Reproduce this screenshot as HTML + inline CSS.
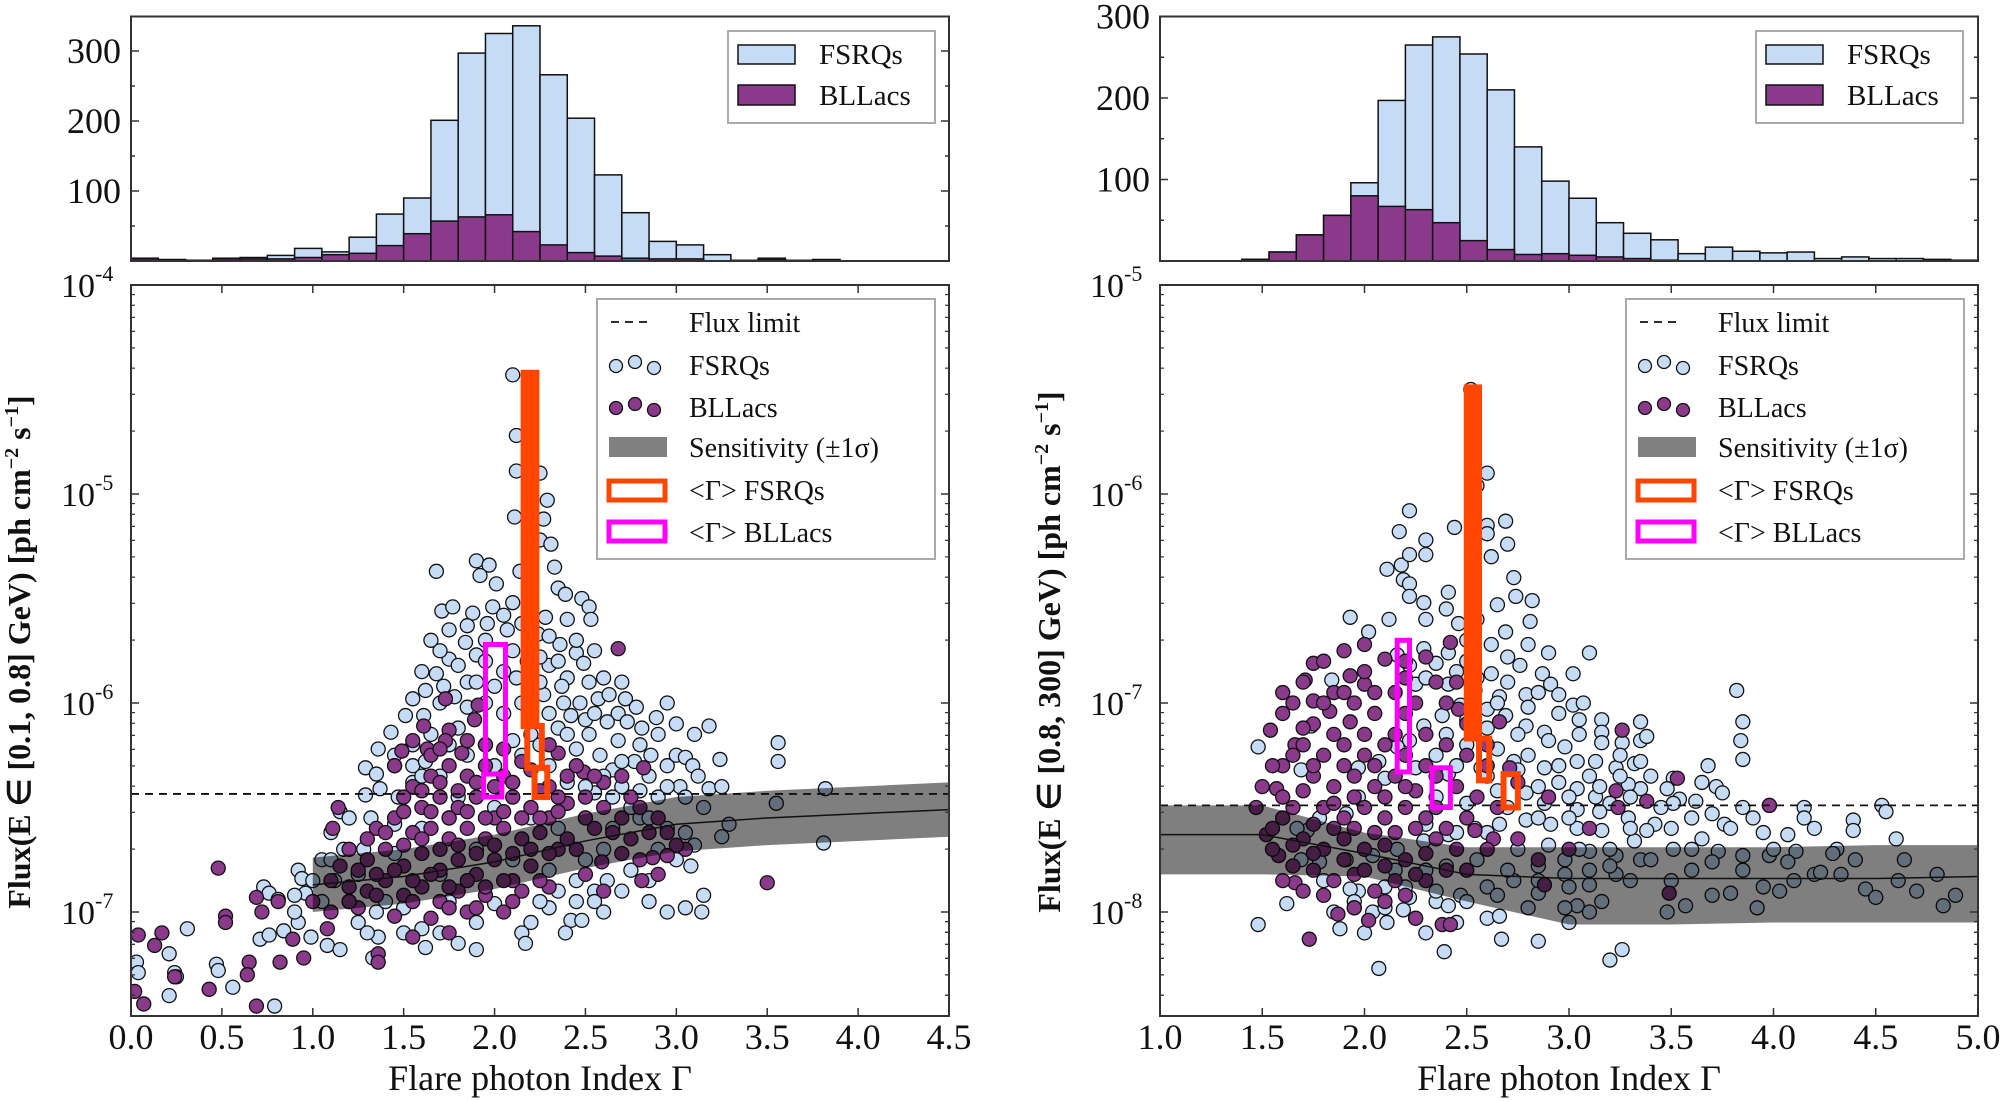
<!DOCTYPE html>
<html><head><meta charset="utf-8"><style>
html,body{margin:0;padding:0;background:#fff}
svg{display:block;font-family:"Liberation Serif",serif}
</style></head><body>
<svg id="fig" width="2000" height="1101" viewBox="0 0 2000 1101" xmlns="http://www.w3.org/2000/svg">
<defs>
<clipPath id="clipL"><rect x="131" y="285" width="818" height="731"/></clipPath>
<clipPath id="clipR"><rect x="1160" y="285" width="818" height="731"/></clipPath>
<clipPath id="clipHL"><rect x="131" y="16" width="818" height="245"/></clipPath>
<clipPath id="clipHR"><rect x="1160" y="16" width="818" height="245"/></clipPath>
</defs>
<g id="root"></g>
</svg>
<script>
// ---------- histogram data ----------
const histLeftStart = 0, histLeftWidth = 0.15;
const histLeftFsrq = [4,2,1,4,5,8,18,13,34,67,90,201,297,325,336,266,204,123,69,28,23,9,1,4,1,2,0,0,0,0];
const histLeftBll  = [3,2,1,3,3,3,5,9,11,22,39,57,63,66,42,23,12,7,4,3,3,0,0,2,0,2,0,0,0,0];
const histRightStart = 1, histRightWidth = 4/30;
const histRightFsrq = [0,0,0,2,11,32,56,96,197,265,275,254,210,140,98,77,47,34,26,9,17,12,10,11,3,5,3,3,2,1];
const histRightBll  = [0,0,0,2,11,32,56,80,67,63,47,25,14,8,9,7,5,3,1,0,0,0,0,0,0,0,0,0,1,0];
const histLeftTicks = [100,200,300];
const histRightTicks = [100,200,300];

// ---------- scatter data: [Gamma, log10 flux] ----------
const fsrqLeft = [[2.10,-4.43],[2.12,-4.72],[2.12,-4.89],[2.25,-4.90],[2.29,-5.03],[2.11,-5.11],[2.27,-5.12],[2.25,-5.22],[2.31,-5.24],
[1.68,-5.37],[1.90,-5.32],[1.97,-5.34],[1.92,-5.39],[2.01,-5.43],[2.14,-5.37],[2.33,-5.35],[2.35,-5.45],[2.39,-5.48],[2.48,-5.50],[2.52,-5.54],[2.53,-5.60],[1.71,-5.56],[1.77,-5.54],[1.88,-5.57],[1.99,-5.54],[2.10,-5.52],[2.28,-5.59],
[1.85,-5.63],[1.96,-5.62],[2.07,-5.65],[2.24,-5.67],[2.36,-5.72],[2.45,-5.76],[2.49,-5.81],[1.84,-5.71],[1.90,-5.77],[1.75,-5.79],[1.68,-5.86],[1.85,-5.90],[2.05,-5.85],[2.18,-5.80],[2.30,-5.82],[2.40,-5.88],[2.52,-5.90],[1.62,-5.94],
[1.61,-6.06],[1.51,-6.06],[1.43,-6.14],[1.70,-6.0],[1.78,-5.97],[1.95,-6.0],[2.27,-5.96],[2.38,-6.0],[2.47,-6.0],[2.57,-5.98],[2.63,-5.96],[2.72,-5.98],[2.68,-6.05],[2.62,-6.09],[2.73,-6.09],[2.81,-6.12],[2.89,-6.07],[3.18,-6.11],[2.50,-6.08],[2.35,-6.12],[2.20,-6.15],[1.80,-6.12],[1.65,-6.15],[1.55,-6.2],
[1.36,-6.22],[1.29,-6.31],[1.35,-6.34],[1.45,-6.25],[1.55,-6.30],[1.62,-6.28],[1.70,-6.35],[1.85,-6.25],[2.0,-6.3],[2.15,-6.25],[2.3,-6.3],[2.45,-6.22],[2.58,-6.25],[2.65,-6.32],[2.77,-6.28],[2.86,-6.25],[2.95,-6.3],[3.0,-6.25],[3.05,-6.26],[3.09,-6.30],[3.24,-6.27],[3.56,-6.19],[3.56,-6.28],[3.12,-6.35],[3.18,-6.41],[3.02,-6.40],[2.90,-6.45],[2.80,-6.42],[2.70,-6.4],[2.55,-6.43],[2.40,-6.38],[1.29,-6.44],[1.37,-6.41],[1.47,-6.45],[1.55,-6.38],[3.25,-6.40],[3.82,-6.41],
[1.15,-6.52],[1.20,-6.55],[1.32,-6.55],[1.45,-6.58],[1.6,-6.6],[1.75,-6.55],[2.5,-6.55],[2.65,-6.6],[2.8,-6.55],[2.95,-6.6],[3.05,-6.62],[3.10,-6.68],[3.0,-6.75],[2.9,-6.7],[3.55,-6.48],[3.81,-6.67],[3.29,-6.58],[3.25,-6.64],[1.10,-6.62],[1.17,-6.70],[1.05,-6.75],[1.28,-6.7],[1.45,-6.72],[3.08,-6.78],
[0.92,-6.80],[0.94,-6.84],[0.96,-6.91],[0.73,-6.88],[0.76,-6.91],[0.81,-6.94],[0.9,-6.92],[1.12,-6.85],[1.2,-6.95],[1.35,-7.0],[1.5,-6.98],[1.75,-6.95],[2.0,-6.96],[2.3,-6.98],[2.45,-6.95],[2.55,-6.9],[2.62,-6.85],[2.85,-6.95],[2.95,-7.0],[3.05,-6.98],[3.14,-7.0],[2.42,-7.04],[2.39,-7.1],[3.15,-6.92],[2.2,-7.05],[1.9,-7.05],[1.6,-7.08],[1.25,-7.05],[0.92,-7.05],[0.9,-7.0],
[0.31,-7.08],[0.71,-7.13],[0.76,-7.11],[0.84,-7.09],[0.99,-7.12],[1.08,-7.16],[1.15,-7.18],[1.36,-7.12],[1.62,-7.17],[1.90,-7.18],[2.15,-7.10],[2.17,-7.15],[2.48,-7.04],[1.33,-7.22],[0.21,-7.20],[0.03,-7.24],[0.04,-7.29],[0.24,-7.29],[0.25,-7.31],[0.47,-7.25],[0.48,-7.28],[0.56,-7.36],[0.21,-7.40],[0.79,-7.45],
[1.8,-6.45],[2.0,-6.5],[2.2,-6.55],[2.35,-6.6],[1.9,-6.7],[2.1,-6.75],[2.3,-6.8],[2.5,-6.75],[1.7,-6.82],[2.6,-6.7]];
const fsrqLeftExtra = [[1.65,-5.7],[1.75,-5.65],[1.95,-5.7],[2.05,-5.58],[2.15,-5.62],[2.3,-5.68],[2.4,-5.6],[1.7,-5.75],[1.8,-5.82],[1.95,-5.8],[2.1,-5.75],[2.25,-5.78],[2.35,-5.8],[2.45,-5.7],[2.55,-5.75],[1.6,-5.85],[1.72,-5.92],[1.9,-5.9],[2.0,-5.92],[2.12,-5.88],[2.25,-5.9],[2.37,-5.92],[2.6,-5.88],[2.7,-5.9],[1.55,-5.98],[1.85,-6.02],[2.05,-6.05],[2.15,-6.0],[2.3,-6.05],[2.42,-6.06],[2.55,-6.05],[2.78,-6.02],[2.95,-6.0],[3.0,-6.1],[3.1,-6.15],[1.45,-6.3],[1.6,-6.35],[1.75,-6.2],[1.95,-6.2],[2.1,-6.18],[2.25,-6.2],[2.4,-6.15],[2.52,-6.15],[2.68,-6.18],[2.8,-6.2],[2.9,-6.15],[2.7,-6.28],[2.85,-6.35],[2.95,-6.4],[3.05,-6.45],[3.15,-6.5],[2.6,-6.35],[2.75,-6.5],[2.85,-6.55],[2.5,-6.4],[2.65,-6.45],[2.85,-6.85],[2.75,-6.8],[2.7,-6.9],[2.55,-6.95],[2.6,-7.0],[2.45,-6.85],[2.35,-6.9],[2.25,-6.95],[1.4,-6.95],[1.25,-6.82],[1.1,-6.75],[1.0,-6.85],[1.05,-6.95],[1.3,-7.1],[1.5,-7.1],[1.7,-7.1],[1.8,-7.15]];

const bllLeft = [[2.68,-5.74],[1.73,-5.98],[1.91,-6.01],[1.89,-6.08],[1.61,-6.11],[1.75,-6.13],[1.49,-6.23],[1.63,-6.22],[1.73,-6.18],[1.82,-6.24],[2.35,-6.24],[2.49,-6.33],[2.82,-6.31],[1.14,-6.50],[1.11,-6.60],[0.48,-6.79],[0.69,-6.93],[0.81,-6.95],[0.72,-7.0],[0.52,-7.02],[0.52,-7.05],[0.04,-7.11],[0.17,-7.10],[0.13,-7.16],[0.89,-7.13],[1.08,-7.08],[0.95,-7.22],[1.36,-7.20],[1.36,-7.24],[0.82,-7.24],[0.65,-7.24],[0.64,-7.30],[0.24,-7.31],[0.02,-7.38],[0.43,-7.37],[0.07,-7.44],[0.69,-7.45],[3.50,-6.86],[2.81,-6.85],[3.05,-6.70],[2.95,-6.73],[2.59,-6.76],[2.87,-6.74],
[1.55,-6.4],[1.65,-6.35],[1.75,-6.3],[1.85,-6.35],[1.95,-6.3],[2.05,-6.35],[2.2,-6.32],[2.3,-6.4],[1.6,-6.5],[1.7,-6.45],[1.8,-6.5],[1.9,-6.45],[2.0,-6.55],[2.1,-6.45],[2.2,-6.5],[2.3,-6.55],[2.4,-6.48],[2.5,-6.45],[2.6,-6.5],[1.35,-6.6],[1.45,-6.55],[1.55,-6.62],[1.65,-6.6],[1.75,-6.65],[1.85,-6.6],[1.95,-6.65],[2.05,-6.6],[2.15,-6.65],[2.25,-6.62],[2.4,-6.65],[2.55,-6.6],[2.7,-6.55],[2.8,-6.5],[1.2,-6.7],[1.3,-6.75],[1.4,-6.7],[1.5,-6.78],[1.6,-6.72],[1.7,-6.8],[1.8,-6.75],[1.9,-6.82],[2.0,-6.75],[2.1,-6.85],[2.2,-6.78],[2.45,-6.7],[2.7,-6.72],[2.85,-6.62],[1.1,-6.85],[1.2,-6.88],[1.3,-6.9],[1.4,-6.85],[1.5,-6.92],[1.6,-6.88],[1.7,-6.95],[1.8,-6.9],[1.95,-6.92],[2.05,-7.0],[2.15,-6.9],[2.3,-6.88],[1.0,-6.95],[1.1,-7.0],[1.25,-6.98],[1.45,-7.02],[1.65,-7.03],[1.85,-7.0],[1.55,-7.12],[1.75,-7.1],[2.35,-6.7],[2.5,-6.82],[2.6,-6.9],[1.65,-6.25],[1.85,-6.18],[2.3,-6.2],[1.5,-6.45],[2.45,-6.3],[2.6,-6.38],[2.75,-6.45],[2.9,-6.55],[3.0,-6.68]];
const bllLeftExtra = [[1.45,-6.3],[1.6,-6.42],[1.7,-6.38],[1.8,-6.42],[1.9,-6.38],[2.0,-6.4],[2.1,-6.38],[2.25,-6.42],[2.35,-6.45],[1.5,-6.52],[1.65,-6.52],[1.75,-6.55],[1.85,-6.52],[1.95,-6.55],[2.05,-6.52],[2.15,-6.55],[2.25,-6.55],[2.35,-6.52],[2.5,-6.55],[1.3,-6.65],[1.4,-6.62],[1.5,-6.68],[1.6,-6.65],[1.7,-6.7],[1.8,-6.68],[1.9,-6.72],[2.0,-6.68],[2.1,-6.72],[2.2,-6.7],[2.3,-6.72],[1.15,-6.78],[1.25,-6.8],[1.35,-6.82],[1.45,-6.8],[1.55,-6.85],[1.65,-6.82],[1.75,-6.88],[1.85,-6.85],[1.95,-6.88],[2.05,-6.85],[2.25,-6.85],[1.2,-6.95],[1.35,-6.92],[1.55,-6.95],[1.75,-6.98],[1.9,-6.98],[2.1,-6.95],[1.95,-6.2],[2.05,-6.22],[2.15,-6.28],[1.55,-6.18],[1.7,-6.22],[2.4,-6.35],[2.55,-6.35],[2.7,-6.35],[2.65,-6.62],[2.75,-6.65],[2.8,-6.75],[2.9,-6.82],[2.95,-6.62]];

const fsrqRight = [[2.52,-5.50],[2.60,-5.90],[2.55,-5.96],[2.22,-6.08],[2.17,-6.18],[2.44,-6.16],[2.60,-6.15],[2.69,-6.13],[2.60,-6.19],[2.70,-6.24],[2.30,-6.22],
[2.11,-6.36],[2.18,-6.34],[2.22,-6.29],[2.30,-6.29],[2.62,-6.30],[2.73,-6.40],[2.19,-6.41],[2.22,-6.43],[2.41,-6.47],[2.29,-6.52],[2.22,-6.49],[2.65,-6.53],[2.74,-6.49],[2.82,-6.51],[1.93,-6.59],[2.02,-6.66],[2.12,-6.60],[2.46,-6.62],[2.69,-6.66],[2.81,-6.61],[2.80,-6.72],[2.62,-6.72],[2.90,-6.76],[3.10,-6.76],[3.02,-6.86],[2.87,-6.86],[2.76,-6.82],[2.62,-6.86],[2.41,-6.76],[2.29,-6.74],[2.35,-6.81],[2.22,-6.82],[2.16,-6.77],[2.25,-6.91],[2.41,-6.91],[2.54,-6.94],[2.66,-6.97],[2.79,-6.96],[2.91,-6.91],[2.95,-6.96],[3.02,-7.01],[3.07,-7.00],[3.16,-7.08],[3.16,-7.14],[3.16,-7.19],[3.26,-7.19],[3.35,-7.09],[3.35,-7.18],[3.38,-7.16],[3.68,-7.30],[3.82,-6.94],[3.85,-7.09],[3.84,-7.18],[3.85,-7.27],[3.72,-7.40],[3.75,-7.43],[3.51,-7.36],[3.48,-7.41],[3.54,-7.46],[3.35,-7.41],[3.29,-7.39],[3.32,-7.29],[3.23,-7.31],[3.13,-7.28],[3.04,-7.28],[2.98,-7.21],[2.88,-7.14],[2.79,-7.11],[2.69,-7.06],[2.60,-7.03],[2.47,-7.01],[2.38,-7.06],[2.29,-7.11],[2.22,-7.18],[2.16,-7.21],[2.07,-7.28],[1.97,-7.31],[1.69,-7.32],[1.74,-7.11],[1.84,-6.89],[1.48,-7.21],
[4.15,-7.50],[3.98,-7.49],[3.85,-7.50],[3.70,-7.53],[3.76,-7.58],[3.79,-7.60],[3.95,-7.62],[4.07,-7.63],[4.15,-7.55],[4.53,-7.49],[4.55,-7.52],[4.39,-7.56],[4.39,-7.61],[4.31,-7.70],[4.11,-7.71],[4.07,-7.76],[3.98,-7.73],[3.85,-7.73],[3.73,-7.71],[3.60,-7.70],[3.51,-7.70],[3.42,-7.58],[3.29,-7.55],[3.51,-7.48],[3.62,-7.47],[3.35,-7.75],[3.23,-7.73],[3.23,-7.82],[3.10,-7.87],[2.98,-7.82],[2.85,-7.78],[2.73,-7.85],[2.60,-7.88],[2.47,-7.92],[2.35,-7.95],[2.22,-7.93],[2.10,-7.88],[1.97,-7.90],[1.93,-7.89],[2.04,-8.00],[2.11,-8.05],[2.19,-7.99],[2.25,-8.03],[1.88,-8.08],[1.48,-8.06],[1.62,-7.96],[2.39,-8.19],[2.67,-8.13],[2.85,-8.14],[2.07,-8.27],[3.20,-8.23],[3.26,-8.18],[3.48,-8.00],[3.57,-7.97],[3.70,-7.92],[3.79,-7.91],[3.95,-7.88],[4.03,-7.90],[3.92,-7.98],[4.20,-7.82],[4.33,-7.82],[4.45,-7.89],[4.50,-7.93],[4.61,-7.85],[4.64,-7.75],[4.80,-7.82],[4.83,-7.97],[4.89,-7.92],[4.23,-7.81],[3.70,-7.76],[4.29,-7.72],[3.16,-7.95],[3.04,-7.97],[2.98,-7.98],[2.60,-8.03],[2.66,-8.02],[2.41,-7.97],[2.85,-7.91],[2.98,-7.75],[3.10,-7.71],[3.20,-7.70],[3.32,-7.66],[3.38,-7.61],[3.16,-7.61],[3.04,-7.60],[2.91,-7.58],[2.79,-7.56],[2.66,-7.58],[2.54,-7.60],[2.41,-7.63],[2.29,-7.66],[2.16,-7.70],[2.04,-7.73],[1.91,-7.75],[1.78,-7.76],[1.69,-7.75],[1.72,-7.61],[1.67,-7.60],[1.78,-7.55],[1.91,-7.53],[1.97,-7.45],[2.10,-7.36],[2.25,-7.31],[2.41,-7.34],[2.57,-7.31],[2.73,-7.28],[2.88,-7.31],[2.95,-7.38],[3.04,-7.41],[3.13,-7.45],[3.20,-7.48],[3.04,-7.51],[2.88,-7.48],[2.79,-7.43],[3.35,-7.28]];
const fsrqRightExtra = [[2.3,-6.6],[2.4,-6.55],[2.55,-6.6],[2.5,-6.7],[2.7,-6.78],[2.5,-6.8],[2.45,-6.85],[2.3,-6.88],[2.55,-6.88],[2.7,-6.9],[2.85,-6.95],[2.65,-7.0],[2.8,-7.02],[2.95,-7.05],[3.05,-7.08],[2.5,-7.08],[2.6,-7.12],[2.75,-7.15],[2.9,-7.18],[3.05,-7.15],[3.25,-7.25],[2.4,-7.15],[2.5,-7.2],[2.65,-7.22],[2.8,-7.25],[2.95,-7.3],[3.1,-7.35],[3.25,-7.35],[3.4,-7.35],[2.35,-7.25],[2.45,-7.3],[2.6,-7.35],[2.75,-7.32],[2.85,-7.4],[3.0,-7.45],[3.15,-7.4],[3.3,-7.45],[3.45,-7.5],[3.6,-7.55],[2.35,-7.45],[2.5,-7.48],[2.65,-7.42],[2.7,-7.5],[2.85,-7.55],[3.0,-7.55],[3.15,-7.52],[3.3,-7.6],[3.5,-7.6],[3.65,-7.65],[2.3,-7.58],[2.45,-7.62],[2.6,-7.62],[2.75,-7.7],[2.9,-7.68],[3.05,-7.7],[3.2,-7.78],[3.4,-7.75],[3.6,-7.8],[3.85,-7.8],[2.15,-7.8],[2.3,-7.8],[2.4,-7.78],[2.55,-7.75],[2.7,-7.8],[2.85,-7.85],[3.0,-7.88],[3.1,-7.8],[3.3,-7.85],[3.5,-7.85],[2.2,-7.88],[2.35,-7.9],[2.5,-7.95],[2.65,-7.92],[2.8,-7.98],[3.0,-8.05],[3.1,-8.0],[2.45,-8.05],[2.3,-8.1],[1.95,-7.95],[2.1,-7.98],[2.0,-8.1],[1.8,-7.85],[1.85,-8.0],[4.0,-7.7],[4.2,-7.6],[4.4,-7.75],[4.6,-7.65],[4.7,-7.9],[4.1,-7.85],[3.9,-7.55],[3.65,-7.38]];

const bllRight = [[1.75,-6.81],[1.93,-6.87],[1.71,-6.89],[1.75,-6.99],[1.83,-7.04],[1.93,-7.09],[2.00,-6.91],[2.10,-6.79],[2.42,-6.71],[2.46,-7.03],[2.66,-7.09],[3.26,-7.13],[3.53,-7.36],[3.98,-7.49],[3.38,-7.47],[3.24,-7.50],[3.23,-7.42],[1.54,-7.13],[1.66,-7.20],[1.57,-7.41],[1.47,-7.50],[1.52,-7.63],[1.58,-7.73],[1.66,-7.86],[1.87,-8.01],[1.95,-7.98],[2.02,-8.04],[1.73,-8.13],[2.38,-8.06],[2.42,-8.06],[2.25,-8.03],[3.49,-7.91],[2.88,-7.87],[2.71,-7.31],[2.63,-7.65],[2.54,-7.61],
[1.65,-7.0],[1.75,-7.1],[1.85,-6.95],[1.95,-7.0],[2.05,-7.05],[2.15,-6.95],[2.25,-7.0],[1.7,-7.2],[1.8,-7.25],[1.9,-7.2],[2.0,-7.15],[2.1,-7.2],[2.2,-7.25],[2.3,-7.15],[2.4,-7.2],[1.6,-7.3],[1.75,-7.35],[1.85,-7.4],[1.95,-7.35],[2.05,-7.4],[2.15,-7.35],[2.25,-7.42],[2.35,-7.35],[2.45,-7.4],[2.55,-7.45],[1.65,-7.5],[1.8,-7.5],[1.9,-7.55],[2.0,-7.5],[2.1,-7.55],[2.2,-7.5],[2.3,-7.55],[2.4,-7.6],[2.5,-7.55],[2.65,-7.5],[1.55,-7.6],[1.7,-7.65],[1.8,-7.7],[1.9,-7.65],[2.0,-7.7],[2.1,-7.68],[2.2,-7.75],[2.3,-7.72],[2.45,-7.7],[2.6,-7.7],[2.75,-7.65],[1.65,-7.78],[1.75,-7.8],[1.85,-7.85],[1.95,-7.82],[2.05,-7.9],[2.15,-7.85],[2.3,-7.85],[2.5,-7.8],[2.85,-7.75],[3.0,-7.7],[3.1,-7.6],[2.9,-7.45],[2.75,-7.38],[2.0,-6.85],[2.2,-6.8],[1.8,-6.8],[1.6,-6.95],[2.35,-6.9],[2.5,-7.25],[2.6,-7.2]];
const bllRightExtra = [[1.7,-6.9],[1.8,-7.0],[1.9,-6.95],[2.05,-6.95],[2.2,-7.05],[1.6,-7.05],[1.7,-7.12],[1.85,-7.15],[2.0,-7.25],[2.15,-7.15],[2.3,-7.3],[1.65,-7.25],[1.75,-7.3],[1.9,-7.3],[2.05,-7.3],[2.2,-7.4],[2.35,-7.5],[1.6,-7.45],[1.7,-7.42],[1.85,-7.48],[1.95,-7.45],[2.1,-7.45],[2.25,-7.6],[1.6,-7.55],[1.75,-7.58],[1.85,-7.6],[1.95,-7.6],[2.05,-7.62],[2.15,-7.62],[2.35,-7.65],[1.55,-7.7],[1.65,-7.68],[1.75,-7.72],[1.9,-7.75],[2.0,-7.8],[2.1,-7.78],[2.25,-7.82],[2.4,-7.8],[1.6,-7.85],[1.7,-7.9],[1.8,-7.92],[1.95,-7.98],[2.1,-7.95],[2.2,-7.92],[1.5,-7.4],[1.55,-7.3],[2.4,-7.0],[2.5,-7.1],[2.6,-7.3],[2.45,-6.9],[2.2,-6.88],[1.9,-6.75],[2.0,-6.72],[2.3,-6.78]];

// ---------- sensitivity band & flux limit ----------
const sensLeftG = [1.0,1.5,2.0,2.5,3.0,3.5,4.0,4.5];
const sensLeftMid = [-6.87,-6.83,-6.76,-6.66,-6.58,-6.55,-6.53,-6.51];
const sensLeftHalf = [0.13,0.13,0.13,0.13,0.13,0.13,0.13,0.13];
const sensRightG = [1.0,1.5,2.0,2.5,3.0,3.5,4.0,4.5,5.0];
const sensRightMid = [-7.63,-7.63,-7.72,-7.82,-7.84,-7.84,-7.84,-7.84,-7.83];
const sensRightUp = [-7.49,-7.49,-7.62,-7.69,-7.69,-7.69,-7.69,-7.68,-7.68];
const sensRightLo = [-7.82,-7.82,-7.83,-7.95,-8.06,-8.06,-8.05,-8.05,-8.05];
const fluxLimitLeft = -6.435, fluxLimitRight = -7.49;

// ---------- mean index markers: [gLo,gHi,logLo,logHi] ----------
const meanFsrqLeft = [[2.16,2.23,-6.11,-4.42],[2.18,2.26,-6.31,-6.11],[2.22,2.29,-6.45,-6.31]];
const meanBllLeft = [[1.95,2.06,-6.34,-5.72],[1.94,2.04,-6.45,-6.34]];
const meanFsrqRight = [[2.50,2.56,-7.17,-5.49],[2.56,2.61,-7.37,-7.17],[2.68,2.75,-7.50,-7.34]];
const meanBllRight = [[2.16,2.22,-7.33,-6.70],[2.33,2.42,-7.50,-7.31]];

const xTicksLeft = ["0.0","0.5","1.0","1.5","2.0","2.5","3.0","3.5","4.0","4.5"];
const xTicksRight = ["1.0","1.5","2.0","2.5","3.0","3.5","4.0","4.5","5.0"];

// ---------- helpers ----------
const NS = "http://www.w3.org/2000/svg";
const root = document.getElementById('root');
function mk(tag, attrs, parent){const e=document.createElementNS(NS,tag);for(const k in attrs)e.setAttribute(k,attrs[k]);(parent||root).appendChild(e);return e;}
const BLUE="#c6dcf6", PURPLE="#8b3a8b";

const panels = [
 {x0:131,g0:0,g1:4.5,top:-4,clip:'clipL',hclip:'clipHL',hs:histLeftStart,hw:histLeftWidth,hf:histLeftFsrq,hb:histLeftBll,hscale:0.70,hticks:histLeftTicks,
  fs:fsrqLeft.concat(fsrqLeftExtra),bl:bllLeft.concat(bllLeftExtra),ticks:xTicksLeft,tickStart:0,lim:fluxLimitLeft,mf:meanFsrqLeft,mb:meanBllLeft,side:'left',
  ylab:"Flux(E \u2208 [0.1, 0.8] GeV) [ph cm",labX:30},
 {x0:1160,g0:1,g1:5,top:-5,clip:'clipR',hclip:'clipHR',hs:histRightStart,hw:histRightWidth,hf:histRightFsrq,hb:histRightBll,hscale:0.815,hticks:histRightTicks,
  fs:fsrqRight.concat(fsrqRightExtra),bl:bllRight.concat(bllRightExtra),ticks:xTicksRight,tickStart:1,lim:fluxLimitRight,mf:meanFsrqRight,mb:meanBllRight,side:'right',
  ylab:"Flux(E \u2208 [0.8, 300] GeV) [ph cm",labX:1060}
];

panels.forEach(p=>{
  const W=818, X=g=>p.x0+(g-p.g0)*W/(p.g1-p.g0), Y=l=>285+(p.top-l)*209, HY=c=>261-c*p.hscale;
  const side=p.side;
  // ---- histogram ----
  const hg=mk('g',{'clip-path':`url(#${p.hclip})`});
  
  
  p.hf.forEach((c,i)=>{ if(c<=0)return;
    const r=mk('rect',{x:X(p.hs+i*p.hw),y:HY(c),width:X(p.hs+(i+1)*p.hw)-X(p.hs+i*p.hw),height:261-HY(c),fill:BLUE,stroke:'#111','stroke-width':1.5},hg);
    
    
  });
  p.hb.forEach((c,i)=>{ if(c<=0)return;
    const r=mk('rect',{x:X(p.hs+i*p.hw),y:HY(c),width:X(p.hs+(i+1)*p.hw)-X(p.hs+i*p.hw),height:261-HY(c),fill:PURPLE,stroke:'#111','stroke-width':1.5},hg);
    
    
  });
  const hf=mk('rect',{x:p.x0,y:16.5,width:W,height:244.5,fill:'none',stroke:'#333','stroke-width':2});
  
  
  [50,100,150,200,250,300].forEach(v=>{
    const yy=HY(v); const len=v%100===0?8:4;
    mk('line',{x1:p.x0,y1:yy,x2:p.x0+len,y2:yy,stroke:'#333','stroke-width':1.5});
    mk('line',{x1:p.x0+W,y1:yy,x2:p.x0+W-len,y2:yy,stroke:'#333','stroke-width':1.5});
  });
  p.hticks.forEach(v=>{
    const t=mk('text',{x:p.x0-10,y:HY(v)+12,'font-size':36,'text-anchor':'end',fill:'#111'});t.textContent=v;
    
    
  });
  // hist legend
  const lx=(side==='left')?728:1756;
  const hl=mk('g',{});
  
  
  mk('rect',{x:lx,y:31,width:207,height:92,fill:'#fff',stroke:'#aaa','stroke-width':2},hl);
  mk('rect',{x:lx+10,y:45,width:57,height:19,fill:BLUE,stroke:'#111','stroke-width':1.5},hl);
  mk('rect',{x:lx+10,y:85,width:57,height:20,fill:PURPLE,stroke:'#111','stroke-width':1.5},hl);
  let t=mk('text',{x:lx+91,y:64,'font-size':29,fill:'#111'},hl);t.textContent='FSRQs';
  t=mk('text',{x:lx+91,y:105,'font-size':29,fill:'#111'},hl);t.textContent='BLLacs';

  // ---- scatter ----
  const sg=mk('g',{'clip-path':`url(#${p.clip})`});
  
  
  p.fs.forEach(d=>{const c=mk('circle',{cx:X(d[0]),cy:Y(d[1]),r:7,fill:BLUE,stroke:'#111','stroke-width':1.3},sg);
    
    });
  p.bl.forEach(d=>{const c=mk('circle',{cx:X(d[0]),cy:Y(d[1]),r:7,fill:PURPLE,stroke:'#111','stroke-width':1.3},sg);
    
    });
  // band
  let G,up,lo,mid;
  if(side==='left'){G=sensLeftG;mid=sensLeftMid;up=mid.map((m,i)=>m+sensLeftHalf[i]);lo=mid.map((m,i)=>m-sensLeftHalf[i]);}
  else {G=sensRightG;mid=sensRightMid;up=sensRightUp;lo=sensRightLo;}
  let d='M'+G.map((g,i)=>X(g)+','+Y(up[i])).join(' L')+' L'+G.slice().reverse().map((g,j)=>X(g)+','+Y(lo[G.length-1-j])).join(' L')+'Z';
  const band=mk('path',{d:d,fill:'#000','fill-opacity':0.5},sg);
  
  
  const ml=mk('path',{d:'M'+G.map((g,i)=>X(g)+','+Y(mid[i])).join(' L'),fill:'none',stroke:'#111','stroke-width':1.5},sg);
  
  
  const lim=mk('line',{x1:X(p.g0),x2:X(p.g1),y1:Y(p.lim),y2:Y(p.lim),stroke:'#111','stroke-width':1.8,'stroke-dasharray':'8,6'},sg);
  
  
  p.mb.forEach(s=>{const r=mk('rect',{x:X(s[0]),y:Y(s[3]),width:X(s[1])-X(s[0]),height:Y(s[2])-Y(s[3]),fill:'none',stroke:'#ff00ff','stroke-width':5},sg);
    
    });
  p.mf.forEach((s,i)=>{const r=mk('rect',{x:X(s[0]),y:Y(s[3]),width:X(s[1])-X(s[0]),height:Y(s[2])-Y(s[3]),fill:i===0?'#ff4500':'none',stroke:'#ff4500','stroke-width':6},sg);
    
    });
  const fr=mk('rect',{x:p.x0,y:285,width:W,height:731,fill:'none',stroke:'#333','stroke-width':2});
  
  
  // x ticks
  p.ticks.forEach((lab,i)=>{
    const g=p.tickStart+i*0.5, xx=X(g);
    mk('line',{x1:xx,y1:1016,x2:xx,y2:1008,stroke:'#333','stroke-width':1.5});
    mk('line',{x1:xx,y1:285,x2:xx,y2:293,stroke:'#333','stroke-width':1.5});
    const t=mk('text',{x:xx,y:1049,'font-size':36,'text-anchor':'middle',fill:'#111'});t.textContent=lab;
    
    
  });
  // y ticks
  for(let k=0;k<=3;k++){
    const l=p.top-k, yy=Y(l);
    mk('line',{x1:p.x0,y1:yy,x2:p.x0+8,y2:yy,stroke:'#333','stroke-width':1.5});
    mk('line',{x1:p.x0+W,y1:yy,x2:p.x0+W-8,y2:yy,stroke:'#333','stroke-width':1.5});
    const t=mk('text',{x:p.x0-36,y:yy+12,'font-size':34,'text-anchor':'end',fill:'#111'});t.textContent='10';
    
    
    const s=mk('text',{x:p.x0-36,y:yy-4,'font-size':22,'text-anchor':'start',fill:'#111'});s.textContent=String(l);
    for(let m=2;m<=9;m++){const ym=Y(l-1+Math.log10(m)); if(ym<285||ym>1016)continue;
      mk('line',{x1:p.x0,y1:ym,x2:p.x0+4,y2:ym,stroke:'#333','stroke-width':1.2});
      mk('line',{x1:p.x0+W,y1:ym,x2:p.x0+W-4,y2:ym,stroke:'#333','stroke-width':1.2});}
  }
  for(let m=4;m<=9;m++){const l=p.top-4+Math.log10(m);const ym=Y(l);if(ym<=1016){mk('line',{x1:p.x0,y1:ym,x2:p.x0+4,y2:ym,stroke:'#333','stroke-width':1.2});mk('line',{x1:p.x0+W,y1:ym,x2:p.x0+W-4,y2:ym,stroke:'#333','stroke-width':1.2});}}
  // x label
  t=mk('text',{x:p.x0+W/2,y:1090,'font-size':36,'text-anchor':'middle',fill:'#111'});t.textContent='Flare photon Index \u0393';
  
  
  // y label
  t=mk('text',{x:0,y:0,'font-size':32,'font-weight':'bold','text-anchor':'middle',fill:'#111',transform:`translate(${p.labX},652) rotate(-90)`});
  t.innerHTML=p.ylab+'<tspan dy="-12" font-size="20">\u22122</tspan><tspan dy="12"> s</tspan><tspan dy="-12" font-size="20">\u22121</tspan><tspan dy="12">]</tspan>';
  
  
  // scatter legend
  const sx=(side==='left')?597:1626;
  const sl=mk('g',{});
  
  
  mk('rect',{x:sx,y:299,width:338,height:260,fill:'#fff',stroke:'#aaa','stroke-width':2},sl);
  mk('line',{x1:sx+14,x2:sx+56,y1:322,y2:322,stroke:'#111','stroke-width':1.8,'stroke-dasharray':'8,6'},sl);
  [[sx+19,366],[sx+38,362],[sx+57,368]].forEach(c=>mk('circle',{cx:c[0],cy:c[1],r:6.5,fill:BLUE,stroke:'#111','stroke-width':1.3},sl));
  [[sx+19,408],[sx+38,404],[sx+57,410]].forEach(c=>mk('circle',{cx:c[0],cy:c[1],r:6.5,fill:PURPLE,stroke:'#111','stroke-width':1.3},sl));
  mk('rect',{x:sx+12,y:437,width:58,height:20,fill:'#808080'},sl);
  mk('rect',{x:sx+12,y:481,width:56,height:19,fill:'none',stroke:'#ff4500','stroke-width':5},sl);
  mk('rect',{x:sx+12,y:522,width:56,height:19,fill:'none',stroke:'#ff00ff','stroke-width':5},sl);
  const labs=['Flux limit','FSRQs','BLLacs','Sensitivity (\u00b11\u03c3)','<\u0393> FSRQs','<\u0393> BLLacs'];
  [332,375,417,457,500,542].forEach((yy,i)=>{const tt=mk('text',{x:sx+92,y:yy,'font-size':28,fill:'#111'},sl);tt.textContent=labs[i];});
});
</script>
</body></html>
